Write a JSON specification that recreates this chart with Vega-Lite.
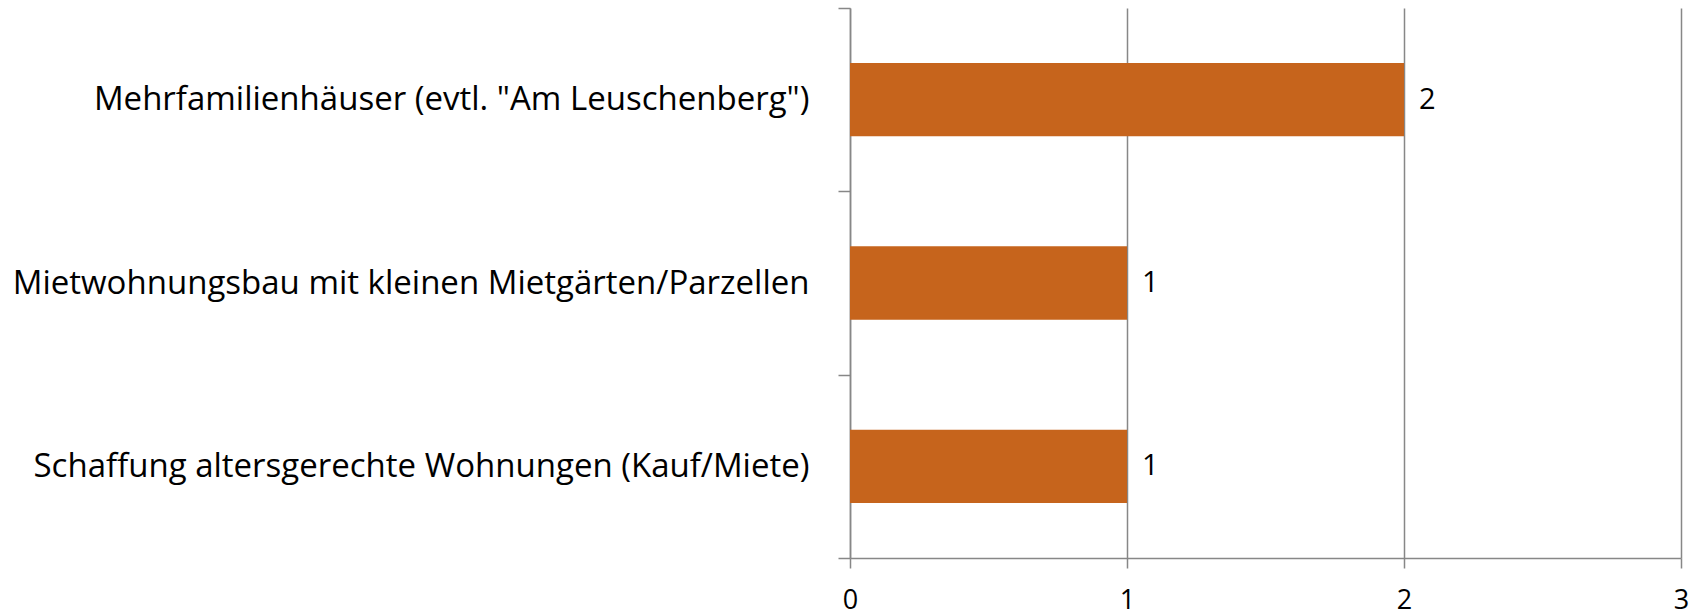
{
  "$schema": "https://vega.github.io/schema/vega-lite/v6.json",
  "autosize": "none",
  "padding": {"left": 850, "top": 8, "right": 19, "bottom": 57},
  "width": 831,
  "height": 550,
  "background": "white",
  "config": {"view": {"stroke": null}},
  "data": {
    "values": [
      {"kategorie": "Mehrfamilienhäuser (evtl. \"Am Leuschenberg\")", "anzahl": 2},
      {"kategorie": "Mietwohnungsbau mit kleinen Mietgärten/Parzellen", "anzahl": 1},
      {"kategorie": "Schaffung altersgerechte Wohnungen (Kauf/Miete)", "anzahl": 1}
    ]
  },
  "encoding": {
    "y": {
      "field": "kategorie",
      "type": "nominal",
      "sort": null,
      "title": null,
      "scale": {"paddingInner": 0, "paddingOuter": 0},
      "axis": {
        "tickBand": "extent",
        "domainColor": "#878787",
        "domainWidth": 1.5,
        "tickColor": "#878787",
        "tickWidth": 1.5,
        "tickSize": 12,
        "labelFont": "Open Sans",
        "labelFontSize": 33,
        "labelColor": "#000000",
        "labelPadding": 29,
        "labelLimit": 900
      }
    },
    "x": {
      "field": "anzahl",
      "type": "quantitative",
      "title": null,
      "scale": {"domain": [0, 3], "nice": false},
      "axis": {
        "values": [0, 1, 2, 3],
        "grid": true,
        "gridColor": "#878787",
        "gridWidth": 1.5,
        "domainColor": "#878787",
        "domainWidth": 1.5,
        "tickColor": "#878787",
        "tickWidth": 1.5,
        "tickSize": 10,
        "labelFont": "Open Sans",
        "labelFontSize": 27,
        "labelColor": "#000000",
        "labelPadding": 19,
        "labelFlush": false,
        "format": "d"
      }
    }
  },
  "layer": [
    {"mark": {"type": "bar", "color": "#C6641C", "height": {"band": 0.4}}},
    {
      "mark": {"type": "text", "align": "left", "baseline": "middle", "dx": 15, "font": "Open Sans", "fontSize": 29, "color": "#000000"},
      "encoding": {"text": {"field": "anzahl", "type": "quantitative"}}
    }
  ]
}
